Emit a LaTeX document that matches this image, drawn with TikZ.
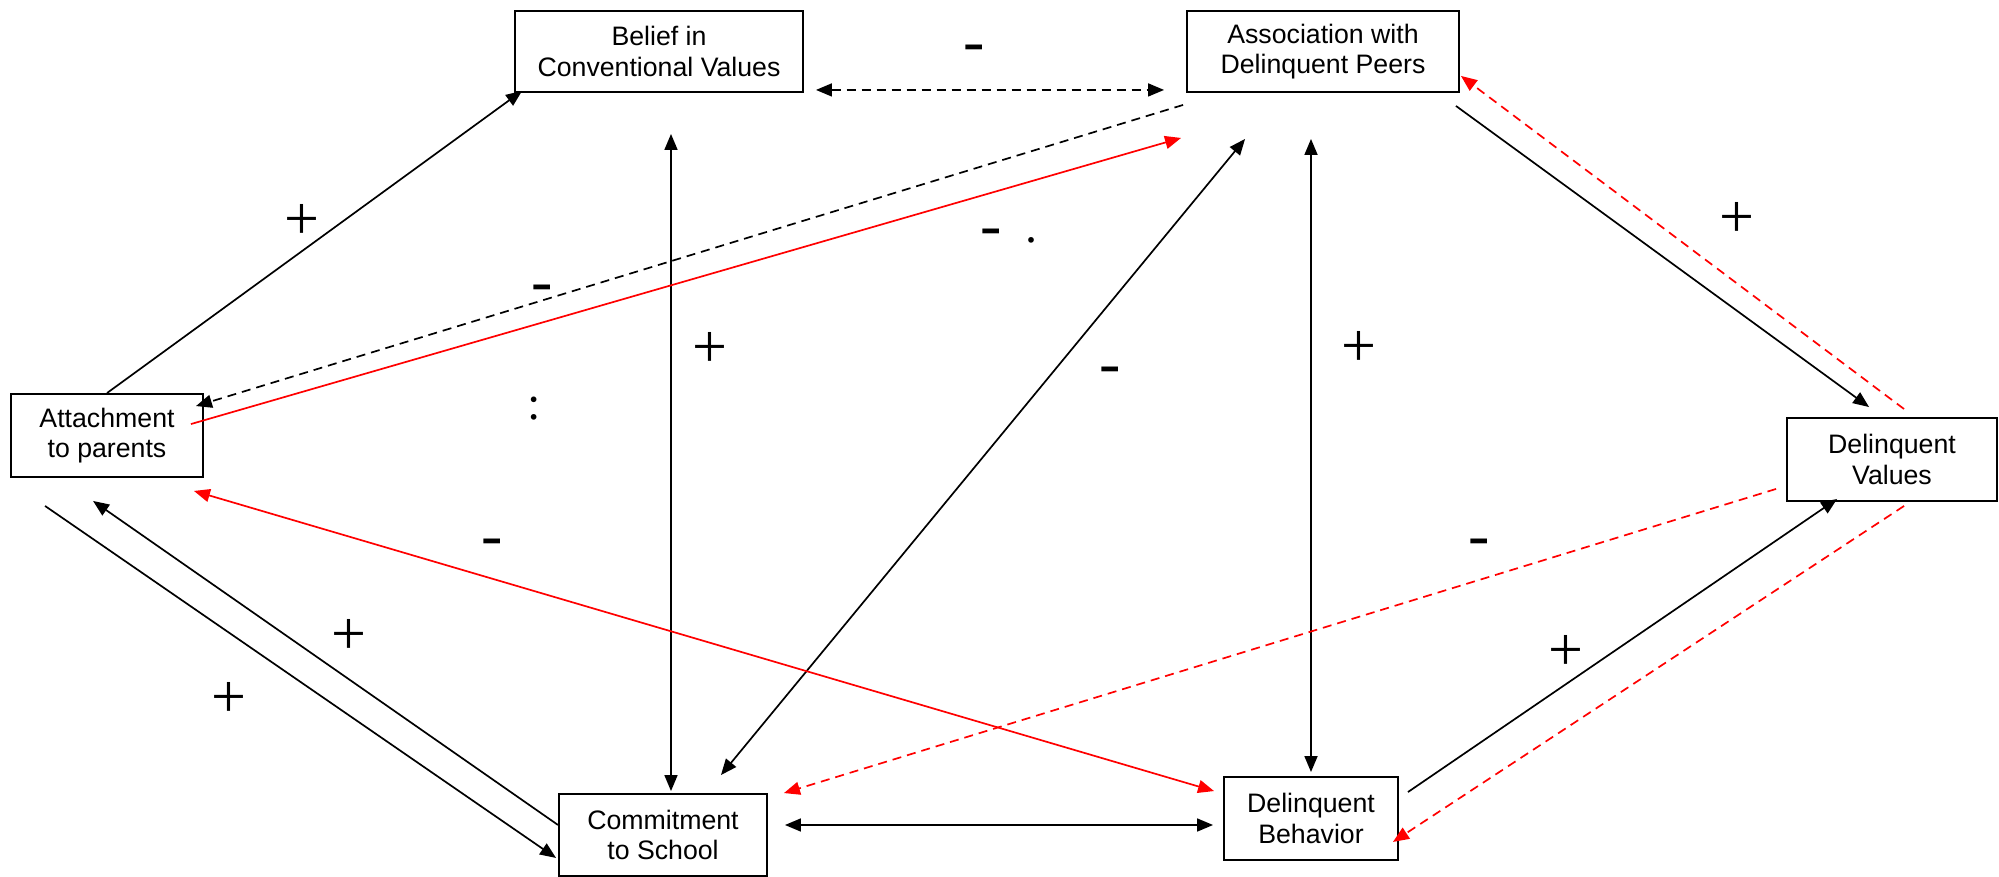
\documentclass[tikz,border=0pt]{standalone}
\usepackage{fontspec}
\setmainfont{Liberation Sans}
\newfontfamily\lserif{Liberation Serif}
\usetikzlibrary{arrows.meta,calc}
\begin{document}
\begin{tikzpicture}[x=1pt,y=-1pt,
  box/.style={draw,line width=1.9pt,inner sep=0pt,align=center,font=\fontsize{26.7}{30.5}\selectfont},
  tip/.tip={Triangle[length=16pt,width=13pt]},
  conn/.style={line width=1.7pt,-tip},
  conn2/.style={line width=1.7pt,tip-tip},
  dsh/.style={dash pattern=on 9pt off 6pt},
  plus/.style={font=\lserif\fontsize{62}{62}\selectfont,inner sep=0pt,anchor=base},
  minus/.style={font=\lserif\fontsize{64}{64}\selectfont,inner sep=0pt,anchor=base},
  dots/.style={font=\lserif\fontsize{48}{48}\selectfont,inner sep=0pt,anchor=base},
]
\useasboundingbox (0,0) rectangle (1999,877);

% boxes
\node[box,minimum width=288pt,minimum height=81pt] (bel) at (659,51.5) {Belief in\\Conventional Values};
\node[box,minimum width=272pt,minimum height=81pt] (asc) at (1323,51.5) {Association with\\Delinquent Peers};
\node[box,minimum width=192pt,minimum height=83pt] (att) at (107,435.5) {Attachment\\to parents};
\node[box,minimum width=210pt,minimum height=83pt] (dv) at (1892,459.5) {Delinquent\\Values};
\node[box,minimum width=208pt,minimum height=82pt] (com) at (663,835) {Commitment\\to School};
\node[box,minimum width=174pt,minimum height=83pt] (db) at (1311,818.5) {Delinquent\\Behavior};

% black solid connectors
\draw[conn] (att.north) -- ($(bel.south west)+(8,-2)$);
\draw[conn2] ($(bel.south)+(12,41)$) -- ($(com.north)+(8,-2)$);
\draw[conn2] ($(com.north east)+(-47,-18)$) -- ($(asc.south west)+(59,46)$);
\draw[conn2] ($(asc.south)+(-12,46)$) -- ($(db.north)+(0,-4)$);
\draw[conn] ($(asc.south east)+(-4,13)$) -- ($(dv.north west)+(83,-10)$);
\draw[conn] ($(att.south west)+(35,28)$) -- ($(com.south west)+(-2,-19)$);
\draw[conn] ($(com.west)+(0,-10)$) -- ($(att.south west)+(83,23)$);
\draw[conn] ($(db.north east)+(9,16)$) -- ($(dv.south west)+(51,-3)$);
\draw[conn2] ($(com.east)+(17,-10)$) -- ($(db.west)+(-10,6.5)$);

% black dashed connectors
\draw[conn2,dsh] ($(bel.south east)+(12,-3)$) -- ($(asc.south west)+(-22,-3)$);
\draw[conn,dsh] ($(asc.south west)+(-3,12)$) -- ($(att.north east)+(-8,13)$);

% red connectors
\draw[conn,red] ($(att.north east)+(-13,31)$) -- ($(asc.south west)+(-5,45)$);
\draw[conn2,red] ($(att.south east)+(-10,13)$) -- ($(db.north west)+(-9,15)$);
\draw[conn,red,dsh] ($(dv.north west)+(118,-8)$) -- ($(asc.south east)+(1,-17)$);
\draw[conn,red,dsh] ($(dv.south west)+(-10,-13)$) -- ($(com.north east)+(16,0)$);
\draw[conn,red,dsh] ($(dv.south west)+(118,4)$) -- ($(db.south east)+(-6,-19)$);

% signs
\node[plus] (p1) at (302,239.8) {+};
\node[plus] (p2) at (710,367.8) {+};
\node[plus] (p3) at (1359,366.8) {+};
\node[plus] (p4) at (1737,237.8) {+};
\node[plus] (p5) at (349,654.8) {+};
\node[plus] (p6) at (229,717.8) {+};
\node[plus] (p7) at (1566,670.8) {+};

\node[minus] (m1) at (974,62.5) {-};
\node[minus] (m2) at (542,302.5) {-};
\node[minus] (m3) at (991,247) {-};
\node[minus] (m4) at (1110,384.5) {-};
\node[minus] (m5) at (492,556.5) {-};
\node[minus] (m6) at (1479,556.5) {-};

\node[dots] (d1) at (1031,242.5) {.};
\node[dots] (d2) at (534.5,419.3) {:};
\end{tikzpicture}
\end{document}
